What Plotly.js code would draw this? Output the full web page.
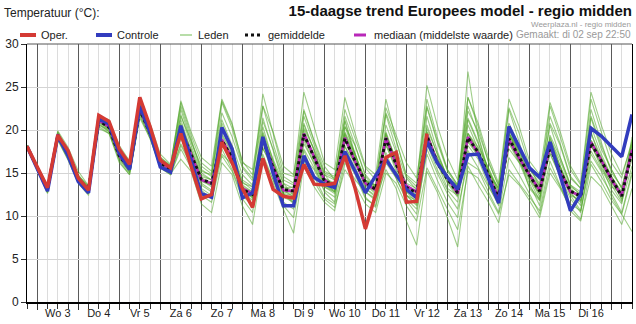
<!DOCTYPE html>
<html>
<head>
<meta charset="utf-8">
<script src="https://cdn.plot.ly/plotly-3.0.1.min.js"></script>
<style>
html,body{margin:0;padding:0;background:#fff;}
#chart{width:636px;height:324px;}
</style>
</head>
<body>
<div id="chart"></div>
<script>
// ---- data (6-hourly, from di 02 sep 18:00) ----
const dayLabels = ['Wo 3','Do 4','Vr 5','Za 6','Zo 7','Ma 8','Di 9','Wo 10','Do 11','Vr 12','Za 13','Zo 14','Ma 15','Di 16'];
const dayNoons = ['2025-09-03 12:00','2025-09-04 12:00','2025-09-05 12:00','2025-09-06 12:00','2025-09-07 12:00','2025-09-08 12:00','2025-09-09 12:00','2025-09-10 12:00','2025-09-11 12:00','2025-09-12 12:00','2025-09-13 12:00','2025-09-14 12:00','2025-09-15 12:00','2025-09-16 12:00'];

const oper = [18.1,15.7,13.3,19.4,17.6, 14.4,13.0,21.7,21.0, 17.8,16.0,23.8,20.4, 16.5,15.6,19.6,15.8, 12.0,12.5,18.6,16.2, 13.2,11.0,16.7,13.1, 12.3,12.1,16.0,13.7, 13.6,13.8,17.0,13.2, 8.5,12.5,16.8,17.4, 11.6,11.7,19.6];
const controle = [18.1,15.5,12.9,19.3,17.0, 14.0,12.7,21.3,20.7, 17.3,15.4,22.8,19.7, 15.7,15.1,20.5,16.5, 12.6,12.2,20.3,17.8, 12.1,12.7,19.2,15.0, 11.2,11.2,17.0,14.5, 13.7,13.3,17.5,15.2, 12.7,14.7,16.6,14.8, 13.1,12.1,18.7,16.2, 14.5,13.1,17.1,17.2, 14.3,11.5,20.4,18.1, 15.6,14.5,18.6,14.7, 10.6,12.5,20.2,19.3, 18.1,16.9,21.8];
const gemiddelde = [18.1,15.6,13.1,19.4,17.2, 14.3,13.1,21.1,20.3, 17.0,15.5,22.4,19.6, 16.2,15.4,20.0,17.2, 14.3,13.8,18.8,16.8, 13.1,12.5,18.9,15.6, 13.1,12.9,19.5,16.8, 14.1,13.5,19.0,16.4, 13.9,13.1,19.0,16.0, 13.3,12.7,19.3,16.2, 14.3,12.7,19.1,17.4, 14.7,12.1,19.0,16.8, 14.7,12.9,18.0,15.2, 12.9,12.3,18.5,16.4, 14.3,12.3,17.6];
const mediaan = [18.1,15.6,13.1,19.5,17.2, 14.3,13.1,21.1,20.4, 17.0,15.5,22.4,19.6, 16.2,15.4,20.2,17.2, 14.2,13.8,18.9,16.8, 13.2,12.6,19.0,15.7, 13.0,12.9,19.6,16.9, 14.2,13.4,19.1,16.3, 13.8,13.0,19.1,16.0, 13.5,12.8,19.4,16.3, 14.4,12.6,19.2,17.3, 14.6,12.2,18.9,16.7, 14.8,13.0,18.1,15.1, 12.8,12.4,18.6,16.5, 14.2,12.4,17.7];

const lid01 = [18.2,15.8,13.5,19.8,17.6, 14.6,13.4,21.4,20.8, 17.6,16.0,22.9,20.4, 16.8,15.9,22.4,18.6, 15.8,14.9,22.0,19.2, 15.6,14.1,22.8,18.4, 14.6,13.8,21.6,18.2, 14.9,13.2,20.4,17.2, 14.2,13.6,21.8,17.8, 14.4,13.0,22.6,18.6, 15.2,13.4,21.2,18.4, 15.6,12.6,20.8,18.0, 15.4,13.8,20.6,16.8, 13.6,12.4,21.6,18.2, 15.4,13.2,18.6];
const lid02 = [18.0,15.2,12.6,18.8,16.5, 13.8,12.4,20.4,19.6, 16.2,14.8,21.6,19.2, 15.6,14.8,17.8,15.6, 12.4,11.6,17.0,15.2, 12.0,10.4,17.2,14.2, 11.6,10.8,17.6,14.6, 12.2,11.4,16.8,14.8, 12.0,11.2,17.4,14.4, 11.8,10.2,17.8,15.0, 12.6,10.8,16.2,15.4, 12.8,10.4,16.8,14.8, 12.6,10.2,15.6,13.4, 11.4,10.6,16.4,14.6, 12.6,10.4,15.2];
const lid03 = [18.1,15.6,13.2,19.5,17.4, 14.6,13.2,21.0,20.2, 16.8,15.2,22.2,19.4, 16.0,15.3,21.2,17.6, 14.4,13.9,19.6,17.4, 13.6,12.8,20.4,16.4, 13.2,13.4,20.8,17.6, 14.4,13.8,21.2,17.2, 13.6,12.6,18.4,15.2, 12.8,11.6,19.8,16.4, 13.8,12.2,20.6,17.8, 14.2,11.6,18.4,16.2, 13.4,12.0,18.8,15.8, 13.2,12.2,19.6,16.8, 14.6,11.8,17.4];
const lid04 = [18.2,15.4,12.8,19.0,16.9, 14.0,12.8,20.6,20.0, 17.2,15.6,22.0,19.8, 16.4,15.6,19.4,17.0, 13.6,12.8,17.2,16.0, 13.0,12.2,18.4,15.6, 12.4,11.8,16.8,15.4, 13.0,12.2,18.0,16.2, 14.2,13.0,19.6,16.0, 12.8,12.2,20.2,17.2, 14.4,13.6,22.8,19.4, 15.2,12.8,18.8,16.4, 13.8,11.2,17.8,15.6, 12.6,11.6,17.6,15.4, 13.4,12.6,16.6];
const lid05 = [18.1,15.9,13.6,19.9,18.0, 15.2,13.5,21.6,21.2, 18.2,16.4,23.0,20.8, 17.2,16.0,23.2,19.4, 16.2,15.2,23.4,20.6, 16.4,14.8,21.4,17.6, 13.8,12.4,18.4,16.2, 13.4,12.6,18.2,15.4, 12.2,11.0,16.2,14.4, 12.0,10.8,17.2,14.2, 11.6,9.8,17.6,15.6, 13.4,11.4,19.6,17.6, 14.6,12.2,19.2,15.8, 12.4,10.6,17.2,15.2, 12.2,10.2,14.8];
const lid06 = [18.0,15.3,12.9,19.2,17.0, 14.2,13.0,20.9,20.0, 16.9,15.3,22.3,19.6, 16.2,15.4,20.6,17.2, 14.2,13.6,18.6,17.2, 14.0,13.0,19.8,16.6, 13.8,13.2,20.2,17.8, 15.0,14.4,22.4,19.0, 15.6,14.2,22.0,18.8, 14.6,13.4,23.6,19.2, 15.4,13.6,23.8,20.4, 16.2,13.6,22.6,19.6, 15.8,13.4,22.8,19.2, 15.4,13.6,23.6,19.8, 16.2,14.4,18.8];
const lid07 = [18.2,15.4,12.7,18.9,16.6, 13.9,12.6,20.2,19.6, 16.6,15.0,21.8,19.0, 15.8,15.0,18.4,16.2, 13.0,12.0,17.8,15.4, 12.4,11.2,16.8,14.2, 11.2,9.8,16.4,14.0, 12.0,11.0,15.4,13.6, 11.4,10.4,15.0,13.8, 11.2,9.4,15.6,13.2, 10.8,8.4,15.2,14.4, 12.4,10.2,14.8,13.6, 11.8,9.8,15.0,13.2, 11.0,9.6,14.6,13.4, 11.2,9.0,13.2];
const lid08 = [18.1,15.7,13.4,19.6,17.3, 14.5,13.1,21.2,20.4, 17.0,15.5,22.6,19.9, 16.3,15.6,21.8,18.2, 15.0,14.2,20.4,17.6, 14.2,13.4,21.0,17.8, 14.2,13.6,22.2,18.6, 15.2,14.6,21.0,16.8, 13.2,12.4,20.6,17.4, 13.6,12.8,21.6,17.6, 14.4,12.6,26.8,19.2, 15.0,13.2,20.2,17.2, 14.2,11.8,19.4,16.8, 13.6,12.8,20.4,17.2, 14.6,12.8,17.8];
const lid09 = [18.1,15.5,13.0,19.3,17.1, 14.3,13.0,21.0,20.2, 16.9,15.4,22.4,19.6, 16.1,15.2,20.0,17.8, 14.6,14.2,18.2,16.6, 13.8,13.4,19.4,15.8, 12.8,12.6,19.0,17.2, 14.8,14.2,19.6,16.6, 14.0,13.6,18.8,16.2, 13.4,12.4,18.6,16.8, 14.2,13.2,19.6,18.0, 15.6,13.0,20.2,17.6, 15.0,13.6,18.2,15.4, 13.0,11.8,18.8,16.6, 14.2,12.6,17.6];
const lid10 = [18.2,15.6,13.0,19.4,17.0, 14.2,12.9,20.8,19.8, 16.7,15.1,22.0,19.3, 15.9,14.9,16.6,15.2, 11.4,10.4,16.2,14.8, 11.2,9.0,16.4,13.8, 10.8,8.0,16.0,13.4, 11.6,10.6,16.2,14.2, 12.8,12.0,15.4,13.2, 9.4,6.6,15.2,12.8, 9.8,6.4,15.8,13.6, 11.6,9.2,15.4,13.8, 12.2,10.6,16.4,13.6, 10.6,9.4,16.0,14.0, 11.8,10.2,8.2];
const lid11 = [18.1,15.8,13.3,19.7,17.5, 14.8,13.3,21.4,20.6, 17.4,15.8,22.8,20.2, 16.6,15.8,22.8,19.0, 15.4,14.6,23.2,20.2, 15.8,14.4,24.2,19.6, 15.0,14.6,24.4,20.4, 16.2,15.4,23.8,19.6, 15.8,14.8,23.6,18.8, 14.8,13.8,25.2,20.6, 16.8,14.2,23.8,20.8, 16.8,13.8,23.6,20.4, 16.4,14.8,23.2,19.8, 15.8,13.8,24.4,20.6, 17.2,14.8,18.4];
const lid12 = [18.0,15.4,12.8,19.1,16.8, 14.0,12.6,20.6,19.8, 16.4,14.8,21.4,19.0, 15.6,14.8,18.2,16.0, 13.2,12.4,20.8,17.8, 13.4,12.0,17.8,15.8, 12.6,11.4,18.8,16.0, 12.8,11.6,19.8,17.2, 14.0,13.2,18.2,15.6, 12.4,11.8,19.0,16.8, 14.6,13.0,18.6,17.0, 14.6,12.2,17.8,16.2, 14.8,13.0,17.2,14.6, 12.0,10.4,18.2,16.0, 13.0,11.4,19.2];
const lid13 = [18.2,15.7,13.4,19.6,17.5, 14.7,13.5,21.4,20.8, 17.8,16.4,23.2,20.6, 16.8,15.8,21.6,18.8, 15.2,14.8,21.2,18.2, 14.8,13.6,19.2,16.2, 12.6,11.6,17.8,15.6, 13.4,12.8,19.4,16.4, 13.2,12.2,19.4,16.6, 12.4,11.4,20.6,17.2, 14.6,13.4,21.4,18.6, 14.8,11.8,19.6,17.8, 15.4,14.2,21.6,18.4, 14.6,13.2,22.4,18.6, 15.0,13.4,17.2];
const lid14 = [18.1,15.6,13.1,19.5,17.2, 14.4,13.2,21.0,20.4, 17.2,15.6,22.6,20.2, 16.6,15.8,23.4,19.8, 16.8,15.8,23.6,20.8, 16.2,15.4,22.8,19.8, 15.8,14.8,22.4,18.8, 15.8,14.2,21.6,18.2, 14.8,13.4,22.6,19.4, 16.2,14.4,22.8,18.8, 15.4,13.6,22.2,19.8, 16.4,13.4,22.4,18.6, 14.6,12.6,20.8,18.2, 14.4,13.2,21.4,17.8, 15.4,13.2,17.8];
const lid15 = [18.1,15.5,13.0,19.2,17.0, 14.2,12.9,21.0,20.1, 16.9,15.4,22.2,19.4, 16.0,15.1,19.0,16.6, 13.8,13.0,18.8,16.8, 13.2,12.6,18.0,15.0, 12.2,11.6,19.4,16.8, 13.6,12.8,18.8,15.8, 12.8,11.8,19.2,16.4, 13.8,13.2,18.4,15.4, 13.0,11.6,18.2,16.6, 13.6,11.2,19.4,17.4, 14.6,12.8,17.4,14.6, 12.8,11.2,19.8,16.2, 13.6,11.6,15.8];
const lid16 = [18.2,15.6,13.2,19.4,17.3, 14.4,13.1,21.2,20.4, 17.0,15.6,22.6,19.8, 16.2,15.2,20.8,17.4, 14.0,13.6,19.2,16.4, 12.8,11.8,18.6,16.2, 13.0,12.2,20.6,17.6, 14.0,12.8,20.4,18.2, 14.6,13.2,19.8,16.4, 12.4,11.2,19.2,16.2, 13.2,12.4,19.6,17.6, 15.2,13.2,19.8,16.8, 13.2,11.8,19.0,16.4, 13.4,12.6,18.4,15.6, 13.8,12.4,18.2];
const lid17 = [18.1,15.6,13.1,19.4,17.2, 14.3,13.1,21.1,20.3, 17.0,15.5,22.4,19.6, 16.2,15.4,20.2,17.4, 14.4,13.8,18.8,16.8, 13.2,12.6,19.2,15.8, 13.0,12.8,19.6,16.8, 14.0,13.4,19.2,16.6, 14.0,13.2,19.2,16.0, 13.4,12.6,19.4,16.4, 14.4,12.8,19.2,17.4, 14.8,12.4,19.2,16.8, 14.6,13.0,18.2,15.4, 13.0,12.2,18.6,16.6, 14.4,12.4,17.8];
const lid18 = [18.1,15.7,13.2,19.5,17.3, 14.4,13.2,21.2,20.4, 17.1,15.6,22.5,19.7, 16.3,15.5,20.6,17.8, 14.8,14.2,19.4,17.2, 13.4,12.8,19.6,16.2, 13.4,13.0,20.0,17.0, 14.4,13.6,19.6,17.0, 14.2,13.4,19.6,16.4, 13.6,12.8,19.8,16.6, 14.8,13.0,19.6,17.6, 15.0,12.2,19.6,17.0, 14.8,13.4,18.6,15.8, 12.8,12.6,18.8,16.8, 14.6,12.6,18.2];
const lid19 = [18.0,15.5,13.0,19.3,17.1, 14.2,13.0,21.0,20.2, 16.9,15.4,22.3,19.5, 16.1,15.3,19.8,17.0, 14.2,13.4,18.4,16.4, 12.8,12.2,18.6,15.4, 12.6,12.4,19.2,16.4, 13.6,13.0,18.8,16.2, 13.6,12.8,18.6,15.8, 13.0,12.4,18.8,16.0, 14.0,12.4,18.8,17.0, 14.4,11.8,18.6,16.4, 14.2,12.6,17.8,15.0, 12.4,11.8,18.2,16.2, 14.0,12.0,17.4];
const leden = [lid01,lid02,lid03,lid04,lid05,lid06,lid07,lid08,lid09,lid10,lid11,lid12,lid13,lid14,lid15,lid16,lid17,lid18,lid19];

// ---- time axis ----
function timeAt(i){
  const d = new Date(Date.UTC(2025,8,2,18) + i*6*3600*1000);
  return d.toISOString().slice(0,16).replace('T',' ');
}
const times = controle.map((_,i)=>timeAt(i));

// ---- layout helpers (pixel -> paper) ----
const L=27, R=4, T=44, B=22, W=636, H=324;
const PW=W-L-R, PH=H-T-B;
const px = x => (x-L)/PW;
const py = y => (H-B-y)/PH;

const FONT = 'Liberation Sans, Arial, sans-serif';

const traces = [];
leden.forEach(m=>{
  traces.push({x:times, y:m, type:'scatter', mode:'lines',
    line:{color:'rgba(80,165,40,0.55)', width:1.1}, hoverinfo:'skip', showlegend:false});
});
traces.push({x:times, y:mediaan, type:'scatter', mode:'lines',
  line:{color:'rgb(185,40,185)', width:2.5}, hoverinfo:'skip', showlegend:false});
traces.push({x:times, y:gemiddelde, type:'scatter', mode:'lines',
  line:{color:'#111', width:3, dash:'dot'}, hoverinfo:'skip', showlegend:false});
traces.push({x:times, y:controle, type:'scatter', mode:'lines',
  line:{color:'rgb(50,60,190)', width:3.5}, hoverinfo:'skip', showlegend:false});
traces.push({x:times.slice(0,oper.length), y:oper, type:'scatter', mode:'lines',
  line:{color:'rgb(212,58,52)', width:3.5}, hoverinfo:'skip', showlegend:false});
// dummy trace for label axis
traces.push({x:[times[0]], y:[null], xaxis:'x2', yaxis:'y', type:'scatter', mode:'lines', hoverinfo:'skip', showlegend:false});

const range = [times[0], times[times.length-1]];

// manual legend
const legendItems = [
  {x0:20, x1:36, tx:39, text:'Oper.', line:{color:'rgb(212,58,52)', width:4}},
  {x0:96, x1:112, tx:115, text:'Controle', line:{color:'rgb(50,60,190)', width:4}},
  {x0:180, x1:192, tx:196, text:'Leden', line:{color:'rgb(160,210,140)', width:1.5}},
  {x0:245, x1:261, tx:266, text:'gemiddelde', line:{color:'#111', width:3, dash:'dot'}},
  {x0:354, x1:366, tx:372, text:'mediaan (middelste waarde)', line:{color:'rgb(185,40,185)', width:3}}
];
const LY = 35;
const shapes = legendItems.map(it=>({type:'line', xref:'paper', yref:'paper',
  x0:px(it.x0), x1:px(it.x1), y0:py(LY), y1:py(LY), line:it.line}));
// top frame line
shapes.push({type:'line', xref:'paper', yref:'paper', x0:0, x1:1, y0:1, y1:1, line:{color:'#555', width:1}});

const annotations = legendItems.map(it=>({xref:'paper', yref:'paper', x:px(it.tx), y:py(LY),
  xanchor:'left', yanchor:'middle', text:it.text, showarrow:false,
  font:{family:FONT, size:11, color:'#222'}}));
annotations.push({xref:'paper', yref:'paper', x:px(2), y:py(13), xanchor:'left', yanchor:'middle',
  text:'Temperatuur (°C):', showarrow:false, font:{family:FONT, size:12, color:'#222'}});
annotations.push({xref:'paper', yref:'paper', x:px(632), y:py(24.5), xanchor:'right', yanchor:'middle',
  text:'Weerplaza.nl - regio midden', showarrow:false, borderpad:0, font:{family:FONT, size:8, color:'#999'}});
annotations.push({xref:'paper', yref:'paper', x:px(632), y:py(35), xanchor:'right', yanchor:'middle',
  text:'Gemaakt: di 02 sep 22:50', showarrow:false, borderpad:0, font:{family:FONT, size:10, color:'#999'}});

const layout = {
  width:W, height:H,
  margin:{l:L, r:R, t:T, b:B, pad:0},
  paper_bgcolor:'#fff', plot_bgcolor:'#fff',
  showlegend:false,
  title:{text:'<b>15-daagse trend Europees model - regio midden</b>', xref:'container', yref:'container',
    x:632/W, xanchor:'right', y:1-11/H, yanchor:'middle', font:{family:FONT, size:15, color:'#111'}},
  xaxis:{type:'date', range:range, tickmode:'linear', tick0:'2025-09-03 00:00', dtick:86400000,
    showticklabels:false, showgrid:true, gridcolor:'#5a5a5a', gridwidth:1.5,
    ticks:'outside', ticklen:6, tickcolor:'#333', tickwidth:1,
    showline:true, linecolor:'#000', linewidth:2, zeroline:false,
    minor:{tickmode:'linear', tick0:'2025-09-02 18:00', dtick:21600000, showgrid:true, gridcolor:'#dcdcdc', gridwidth:1,
      ticks:'outside', ticklen:5, tickcolor:'#333'}},
  xaxis2:{type:'date', range:range, overlaying:'x', anchor:'y', side:'bottom',
    tickmode:'array', tickvals:dayNoons, ticktext:dayLabels, showgrid:false, zeroline:false, showline:false,
    ticks:'outside', ticklen:1, tickcolor:'rgba(0,0,0,0)',
    tickfont:{family:FONT, size:11, color:'#222'}},
  yaxis:{range:[0,30], tickmode:'linear', tick0:0, dtick:5, showgrid:true, gridcolor:'#d4d4d4', gridwidth:1,
    ticks:'outside', ticklen:5, tickcolor:'#333', showline:true, linecolor:'#000', linewidth:1, mirror:true,
    zeroline:false, tickfont:{family:FONT, size:12, color:'#222'}},
  shapes:shapes,
  annotations:annotations
};

Plotly.newPlot('chart', traces, layout, {staticPlot:true, displayModeBar:false});
</script>
</body>
</html>
